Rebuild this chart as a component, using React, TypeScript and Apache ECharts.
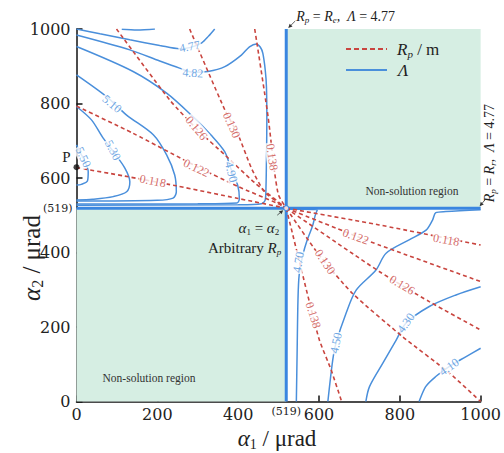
import React, { useEffect, useRef } from "react";
import * as echarts from "echarts";

// ---------- data (alpha1, alpha2 in µrad) ----------
const AXIS_MIN = 0;
const AXIS_MAX = 1000;
const AXIS_STEP = 200;
const CRITICAL = 519;
const pointP = [0, 629];

const nonSolutionRegions = [
  [[519, 519], [1000, 1000]],
  [[0, 0], [519, 519]],
];

// Λ = 4.77 boundaries (Rp = Re and Rp = Rr)
const boundaryVertical = [[519, 0], [519, 1000]];
const boundaryHorizontal = [[0, 519], [1000, 519]];

// Λ contours
const lam477 = [[0, 1000], [58, 987], [132, 971], [206, 956], [255, 947], [280, 950], [310, 963], [327, 981], [342, 1000]];
const lam477Top = [[112, 999], [150, 997], [194, 1000]];
const lam482 = [[0, 984], [132, 944], [206, 914], [255, 895], [288, 884], [325, 886], [367, 899], [408, 930], [428, 952], [445, 960], [455, 951], [461, 935], [467, 890], [470, 845], [471, 756], [470, 648], [469, 581], [467, 541], [458, 531], [400, 528], [0, 527]];
const lam490 = [[0, 953], [140, 886], [223, 828], [284, 769], [334, 714], [367, 670], [383, 622], [399, 580], [403, 545], [397, 533], [300, 531], [0, 530]];
const lam510 = [[0, 877], [75, 818], [124, 769], [190, 716], [223, 662], [243, 608], [247, 563], [239, 546], [200, 540], [0, 538]];
const lam530 = [[0, 792], [37, 756], [66, 707], [91, 671], [120, 626], [132, 590], [124, 563], [91, 550], [40, 543], [0, 541]];
const lam550 = [[0, 689], [8, 670], [17, 653], [29, 617], [27, 592], [12, 583], [0, 581]];
const lam470 = [[522, 516], [596, 515], [591, 501], [584, 471], [571, 434], [560, 393], [551, 340], [548, 272], [546, 138], [544, 0]];
const lam450 = [[1000, 515], [914, 510], [889, 507], [881, 487], [865, 460], [823, 434], [766, 398], [741, 353], [692, 299], [667, 237], [642, 156], [634, 111], [622, 0]];
const lam430 = [[1000, 308], [939, 286], [873, 255], [815, 210], [791, 165], [758, 103], [725, 40], [716, 0]];
const lam410 = [[1000, 143], [963, 120], [921, 93], [889, 67], [864, 40], [848, 0]];
const lambdaContours = [lam477, lam477Top, lam482, lam490, lam510, lam530, lam550, lam470, lam450, lam430, lam410];

// contour labels: [alpha1, alpha2, text, rotation°]
const lambdaLabels: [number, number, string, number][] = [
  [280, 953, "4.77", 12],
  [288, 882, "4.82", -4],
  [88, 799, "5.10", -40],
  [90, 675, "5.30", -62],
  [17, 656, "5.50", -65],
  [383, 616, "4.90", -76],
  [549, 374, "4.70", 80],
  [642, 157, "4.50", 78],
  [815, 211, "4.30", 55],
  [922, 93, "4.10", 35],
];

// Rp (m) iso-lines, all meeting at (519, 519)
const rp118a = [[0, 628], [120, 605], [247, 579], [400, 545], [519, 519]];
const rp122a = [[0, 793], [140, 720], [297, 631], [400, 577], [495, 533], [519, 519]];
const rp126a = [[99, 1000], [231, 809], [300, 729], [367, 662], [440, 588], [519, 519]];
const rp130a = [[280, 1000], [367, 783], [400, 716], [433, 626], [465, 563], [519, 519]];
const rp138a = [[441, 1000], [474, 765], [490, 617], [500, 554], [519, 519]];
const rp118b = [[519, 519], [749, 474], [1000, 420]];
const rp122b = [[519, 519], [692, 444], [749, 420], [1000, 322]];
const rp126b = [[519, 519], [749, 349], [873, 268], [1000, 192]];
const rp130b = [[519, 519], [597, 398], [683, 290], [807, 174], [923, 76], [1000, 0]];
const rp138b = [[519, 519], [577, 264], [601, 165], [630, 85], [656, 0]];
const rpCurves = [rp118a, rp122a, rp126a, rp130a, rp138a, rp118b, rp122b, rp126b, rp130b, rp138b];

const rpLabels: [number, number, string, number][] = [
  [189, 592, "0.118", -11],
  [297, 627, "0.122", -25],
  [297, 734, "0.126", -50],
  [384, 742, "0.130", -66],
  [484, 656, "0.138", -82],
  [915, 434, "0.118", -10],
  [691, 443, "0.122", -20],
  [806, 313, "0.126", -31],
  [615, 375, "0.130", -56],
  [586, 232, "0.138", -72],
];

// ---------- styles ----------
const BLUE = "#4a8fdb";
const BLUE_THICK = "#3a86e0";
const RED = "#c9453f";
const GREEN = "#d6eee3";
const SERIF = "Liberation Serif";
const TICK_FONT = "DejaVu Serif";

export default function App() {
  const ref = useRef<HTMLDivElement>(null);

  useEffect(() => {
    if (!ref.current) return;
    const chart = echarts.init(ref.current, undefined, { renderer: "svg" });

    const series: any[] = [];
    lambdaContours.forEach((c) =>
      series.push({
        type: "line",
        name: "Λ",
        data: c,
        symbol: "none",
        showSymbol: false,
        smooth: 0.3,
        lineStyle: { color: BLUE, width: 1.5 },
        itemStyle: { color: BLUE },
        z: 3,
      })
    );
    series.push({
      type: "line",
      name: "Λ",
      data: boundaryHorizontal,
      symbol: "none",
      lineStyle: { color: BLUE_THICK, width: 3 },
      itemStyle: { color: BLUE },
      z: 4,
      markArea: {
        silent: true,
        itemStyle: { color: GREEN },
        data: nonSolutionRegions.map(([a, b]) => [{ coord: a }, { coord: b }]),
      },
    });
    series.push({
      type: "line",
      name: "Λ",
      data: boundaryVertical,
      symbol: "none",
      lineStyle: { color: BLUE_THICK, width: 3 },
      itemStyle: { color: BLUE },
      z: 4,
    });
    rpCurves.forEach((c) =>
      series.push({
        type: "line",
        name: "Rp",
        data: c,
        symbol: "none",
        showSymbol: false,
        smooth: 0.2,
        lineStyle: { color: RED, width: 1.6, type: [4, 3] },
        itemStyle: { color: RED },
        z: 5,
      })
    );
    const labelSeries = (arr: [number, number, string, number][], color: string) => ({
      type: "scatter",
      symbolSize: 0,
      silent: true,
      z: 10,
      data: arr.map(([x, y, t, r]) => ({ name: t, value: [x, y], label: { rotate: r } })),
      label: {
        show: true,
        position: "inside",
        formatter: "{b}",
        color,
        fontFamily: SERIF,
        fontSize: 12,
        backgroundColor: "#ffffff",
        padding: [0, 1],
      },
    });
    series.push(labelSeries(lambdaLabels, BLUE));
    series.push(labelSeries(rpLabels, RED));
    series.push({
      type: "scatter",
      data: [[CRITICAL, CRITICAL]],
      symbol: "circle",
      symbolSize: 5,
      itemStyle: { color: "#ffffff", borderColor: BLUE_THICK, borderWidth: 1.2 },
      z: 12,
      silent: true,
    });
    series.push({
      type: "scatter",
      data: [pointP],
      symbol: "circle",
      symbolSize: 6,
      clip: false,
      itemStyle: { color: "#111" },
      z: 12,
      silent: true,
    });

    const axisCommon = {
      type: "value",
      min: AXIS_MIN,
      max: AXIS_MAX,
      interval: AXIS_STEP,
      axisLine: { show: true, onZero: false, lineStyle: { color: "#111", width: 1.5 } },
      axisTick: { show: true, inside: true, length: 6, lineStyle: { color: "#111", width: 1.5 } },
      axisLabel: { fontFamily: TICK_FONT, fontSize: 16, color: "#222", formatter: (v: number) => String(v) },
      splitLine: { show: false },
    };

    chart.setOption({
      animation: false,
      backgroundColor: "#ffffff",
      grid: { left: 76.5, top: 29, width: 405, height: 372.5 },
      xAxis: { ...axisCommon, axisLabel: { ...axisCommon.axisLabel, margin: 5 } },
      yAxis: { ...axisCommon, axisLabel: { ...axisCommon.axisLabel, margin: 6 } },
      series,
    });

    const px = (x: number, y: number) => chart.convertToPixel({ gridIndex: 0 }, [x, y]) as number[];
    const yC = px(0, CRITICAL);
    const xC = px(CRITICAL, 0);
    const pP = px(pointP[0], pointP[1]);
    const ctr = px(CRITICAL, CRITICAL);
    const topEnd = px(CRITICAL, AXIS_MAX);
    const rightEnd = px(AXIS_MAX, CRITICAL);

    const richBase = (size: number) => ({
      i: { fontFamily: SERIF, fontStyle: "italic", fontSize: size, fill: "#222" },
      s: { fontFamily: SERIF, fontStyle: "italic", fontSize: Math.round(size * 0.62), fill: "#222", padding: [Math.round(size * 0.5), 0, 0, 0] },
      n: { fontFamily: SERIF, fontSize: size, fill: "#222" },
      d: { fontFamily: SERIF, fontSize: Math.round(size * 0.62), fill: "#222", padding: [Math.round(size * 0.5), 0, 0, 0] },
    });

    const arrow = (x1: number, y1: number, x2: number, y2: number) => {
      const ang = Math.atan2(y2 - y1, x2 - x1);
      const L = 4, W = 2;
      const bx = x2 - L * Math.cos(ang), by = y2 - L * Math.sin(ang);
      return [
        { type: "line", shape: { x1, y1, x2: bx, y2: by }, style: { stroke: "#333", lineWidth: 0.8 }, z: 20 },
        {
          type: "polygon",
          shape: {
            points: [
              [x2, y2],
              [bx + W * Math.sin(ang), by - W * Math.cos(ang)],
              [bx - W * Math.sin(ang), by + W * Math.cos(ang)],
            ],
          },
          style: { fill: "#333" },
          z: 20,
        },
      ];
    };

    const legendX = 346, legendY1 = 49, legendY2 = 70;
    const graphic: any[] = [
      // legend
      { type: "line", shape: { x1: legendX, y1: legendY1, x2: legendX + 41, y2: legendY1 }, style: { stroke: RED, lineWidth: 1.8, lineDash: [5, 3] }, z: 20 },
      { type: "text", x: legendX + 51, y: legendY1, z: 20, style: { text: "{i|R}{s|p}{n| / m}", rich: richBase(17), align: "left", verticalAlign: "middle" } },
      { type: "line", shape: { x1: legendX, y1: legendY2, x2: legendX + 41, y2: legendY2 }, style: { stroke: BLUE, lineWidth: 1.8 }, z: 20 },
      { type: "text", x: legendX + 52, y: legendY2, z: 20, style: { text: "{i|Λ}", rich: richBase(17), align: "left", verticalAlign: "middle" } },
      // special tick labels
      { type: "text", x: yC[0] - 4, y: yC[1], z: 20, style: { text: "(519)", font: `11px '${TICK_FONT}'`, fill: "#222", align: "right", verticalAlign: "middle" } },
      { type: "text", x: xC[0], y: xC[1] + 10, z: 20, style: { text: "(519)", font: `11px '${TICK_FONT}'`, fill: "#222", align: "center", verticalAlign: "middle" } },
      // P
      { type: "text", x: pP[0] - 10, y: pP[1] - 10, z: 20, style: { text: "P", font: `15px '${SERIF}'`, fill: "#222", align: "center", verticalAlign: "middle" } },
      // axis titles
      {
        type: "text", x: 277, y: 438, z: 20,
        style: { text: "{i|α}{d|1}{n| / μrad}", rich: richBase(23), align: "center", verticalAlign: "middle" },
      },
      {
        type: "text", x: 31, y: 258, rotation: Math.PI / 2, z: 20,
        style: { text: "{i|α}{d|2}{n| / μrad}", rich: richBase(25), align: "center", verticalAlign: "middle" },
      },
      // boundary annotations
      {
        type: "text", x: topEnd[0] + 10, y: topEnd[1] - 13, z: 20,
        style: { text: "{i|R}{s|p}{n| = }{i|R}{s|e}{n|,  }{i|Λ}{n| = 4.77}", rich: richBase(14), align: "left", verticalAlign: "middle" },
      },
      ...arrow(topEnd[0] + 9, topEnd[1] - 8, topEnd[0] + 2, topEnd[1] - 1),
      {
        type: "text", x: rightEnd[0] + 9, y: rightEnd[1] - 55, rotation: Math.PI / 2, z: 20,
        style: { text: "{i|R}{s|p}{n| = }{i|R}{s|r}{n|,  }{i|Λ}{n| = 4.77}", rich: richBase(14), align: "center", verticalAlign: "middle" },
      },
      ...arrow(rightEnd[0] + 5, rightEnd[1] - 9, rightEnd[0] - 1, rightEnd[1] - 2),
      // center annotation
      {
        type: "text", x: ctr[0] - 7, y: ctr[1] + 20, z: 20,
        style: { text: "{i|α}{d|1}{n| = }{i|α}{d|2}", rich: richBase(15), align: "right", verticalAlign: "middle" },
      },
      {
        type: "text", x: ctr[0] - 5, y: ctr[1] + 40, z: 20,
        style: { text: "{n|Arbitrary }{i|R}{s|p}", rich: richBase(15), align: "right", verticalAlign: "middle" },
      },
      ...arrow(ctr[0] - 9, ctr[1] + 7, ctr[0] - 3, ctr[1] + 2),
      // non-solution region labels
      { type: "text", x: 412, y: 191, z: 20, style: { text: "Non-solution region", font: `11.5px '${SERIF}'`, fill: "#333", align: "center", verticalAlign: "middle" } },
      { type: "text", x: 149, y: 378, z: 20, style: { text: "Non-solution region", font: `11.5px '${SERIF}'`, fill: "#333", align: "center", verticalAlign: "middle" } },
    ];
    chart.setOption({ graphic });

    return () => chart.dispose();
  }, []);

  return <div ref={ref} style={{ position: "absolute", left: 0, top: 0, width: 504, height: 453 }} />;
}
